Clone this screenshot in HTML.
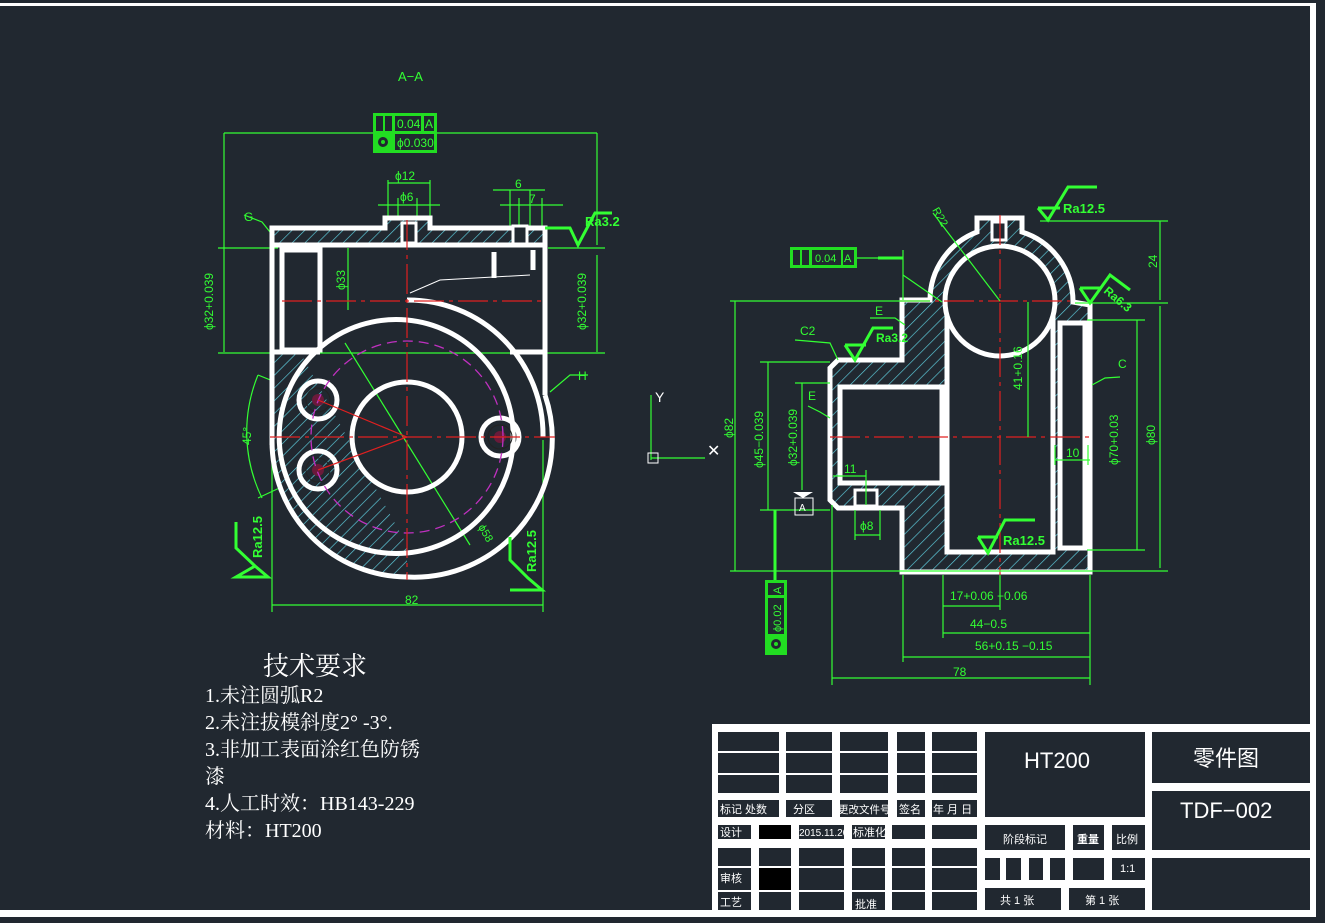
<!DOCTYPE html>
<html><head><meta charset="utf-8"><style>
html,body{margin:0;padding:0;background:#212830;}
svg{display:block}
text{font-family:"Liberation Sans","Noto Sans CJK SC",sans-serif}
.tr text{font-family:"Liberation Serif","Noto Serif CJK SC",serif}
</style></head><body>
<svg width="1325" height="923" viewBox="0 0 1325 923" xmlns="http://www.w3.org/2000/svg">
<defs>
<pattern id="h" width="9" height="9" patternUnits="userSpaceOnUse" patternTransform="rotate(45)">
<rect width="9" height="9" fill="#212830"/><line x1="0" y1="0" x2="0" y2="9" stroke="#5fd0e0" stroke-width="1.3"/></pattern>
</defs>
<rect width="1325" height="923" fill="#212830"/>
<rect x="0" y="3" width="1313" height="3" fill="#fff"/>
<rect x="1310" y="3" width="6" height="914" fill="#fff"/>
<rect x="0" y="910" width="1316" height="7" fill="#fff"/>

<!-- LEFT VIEW -->
<text x="398" y="81" fill="#3f3" font-size="13">A−A</text>
<rect x="373" y="113" width="64" height="40" fill="#22dd22"/>
<rect x="395" y="116" width="26" height="15" fill="#212830"/><rect x="424" y="116" width="10" height="15" fill="#212830"/>
<rect x="395" y="134" width="39" height="16" fill="#212830"/>
<rect x="376" y="116" width="7" height="15" fill="#212830"/><rect x="385" y="116" width="7" height="15" fill="#212830"/>
<circle cx="383" cy="142" r="5" fill="#212830"/><circle cx="383" cy="142" r="2" fill="#22dd22"/>
<text x="397" y="128" fill="#3f3" font-size="12">0.04</text><text x="425" y="128" fill="#3f3" font-size="12">A</text>
<text x="397" y="147" fill="#3f3" font-size="12">ϕ0.030</text>
<g stroke="#3f3" stroke-width="1.2" fill="none">
<line x1="224" y1="133" x2="373" y2="133"/><line x1="437" y1="133" x2="597" y2="133"/>
<line x1="224" y1="133" x2="224" y2="352"/><line x1="597" y1="133" x2="597" y2="245"/>
<line x1="218" y1="248" x2="278" y2="248"/><line x1="548" y1="248" x2="605" y2="248"/>
<line x1="218" y1="353" x2="605" y2="353"/>
<line x1="597" y1="255" x2="597" y2="352"/>
<line x1="388" y1="180" x2="388" y2="222"/><line x1="430" y1="180" x2="430" y2="222"/><line x1="388" y1="183" x2="430" y2="183"/>
<line x1="378" y1="205" x2="440" y2="205"/><line x1="398" y1="198" x2="398" y2="222"/><line x1="417" y1="198" x2="417" y2="222"/>
<line x1="493" y1="190" x2="545" y2="190"/><line x1="510" y1="190" x2="510" y2="245"/><line x1="530" y1="190" x2="530" y2="245"/>
<line x1="500" y1="205" x2="563" y2="205"/><line x1="519" y1="198" x2="519" y2="245"/><line x1="542" y1="198" x2="542" y2="245"/>
<line x1="348" y1="248" x2="348" y2="310"/>
<line x1="272" y1="440" x2="272" y2="612"/><line x1="543" y1="440" x2="543" y2="612"/><line x1="272" y1="605" x2="543" y2="605"/>
<line x1="345" y1="343" x2="470" y2="545"/>
<path d="M258 375 A150 150 0 0 0 262 498"/>
<line x1="258" y1="375" x2="320" y2="400"/><line x1="258" y1="498" x2="318" y2="470"/>
<polyline points="244,215 262,222 270,232"/>
<polyline points="588,375 570,375 550,392"/>
</g>
<text x="395" y="180" fill="#3f3" font-size="12">ϕ12</text>
<text x="400" y="201" fill="#3f3" font-size="12">ϕ6</text>
<text x="515" y="188" fill="#3f3" font-size="12">6</text><text x="529" y="203" fill="#3f3" font-size="12">7</text>
<text x="244" y="221" fill="#3f3" font-size="12">G</text><text x="578" y="380" fill="#3f3" font-size="12">H</text>
<text x="405" y="604" fill="#3f3" font-size="12">82</text>
<text transform="translate(213,330) rotate(-90)" fill="#3f3" font-size="12">ϕ32+0.039</text>
<text transform="translate(586,330) rotate(-90)" fill="#3f3" font-size="12">ϕ32+0.039</text>
<text transform="translate(345,290) rotate(-90)" fill="#3f3" font-size="12">ϕ33</text>
<text transform="translate(251,445) rotate(-90)" fill="#3f3" font-size="12">45°</text>
<text transform="translate(478,527) rotate(60)" fill="#3f3" font-size="11">ϕ58</text>
<path d="M272 228 L385 228 L385 218 L430 218 L430 228 L545 228 L545 245 L272 245 Z" fill="url(#h)" stroke="#fff" stroke-width="5"/>
<rect x="402" y="223" width="14" height="20" fill="#212830" stroke="#fff" stroke-width="3"/>
<rect x="513" y="226" width="14" height="18" fill="#212830" stroke="#fff" stroke-width="3"/>
<path d="M272 352 L272 440 A136 136 0 0 0 407 577 L407 545 L300 352 Z" fill="url(#h)"/>
<g stroke="#fff" stroke-width="5" fill="none">
<line x1="272" y1="245" x2="272" y2="445"/><line x1="545" y1="228" x2="545" y2="395"/>
<path d="M272 440 A136 136 0 0 0 407 577"/><path d="M407 577 A138 138 0 0 0 545 395"/>
<rect x="282" y="250" width="38" height="100"/>
<line x1="272" y1="352" x2="320" y2="352"/><line x1="510" y1="352" x2="545" y2="352"/>
<path d="M407 300 A135 135 0 0 1 543 437"/>
<path d="M407 320 A117 117 0 1 0 407 553 A117 117 0 0 0 407 320"/>
<circle cx="407" cy="437" r="55"/>
<circle cx="318" cy="400" r="19"/><circle cx="318" cy="470" r="19"/><circle cx="500" cy="437" r="19"/>
<line x1="494" y1="252" x2="494" y2="278"/><line x1="533" y1="250" x2="533" y2="270"/>
</g>
<g stroke="#222" stroke-width="1" fill="none"><circle cx="318" cy="400" r="12"/><circle cx="318" cy="470" r="12"/><circle cx="500" cy="437" r="12"/></g>
<circle cx="318" cy="400" r="6" fill="#6a1a3a"/><circle cx="318" cy="470" r="6" fill="#6a1a3a"/><circle cx="500" cy="437" r="6" fill="#6a1a3a"/>
<circle cx="407" cy="437" r="96" fill="none" stroke="#c030c0" stroke-width="1.3" stroke-dasharray="10,6"/>
<polyline points="410,293 440,280 530,275" stroke="#fff" stroke-width="1" fill="none"/>
<g stroke="#e02020" stroke-width="1.2" fill="none">
<line x1="282" y1="301" x2="545" y2="301" stroke-dasharray="30,5,4,5"/>
<line x1="270" y1="437" x2="555" y2="437" stroke-dasharray="30,5,4,5"/>
<line x1="407" y1="220" x2="407" y2="580" stroke-dasharray="30,5,4,5"/>
<line x1="318" y1="400" x2="407" y2="437"/><line x1="318" y1="470" x2="407" y2="437"/>
</g>
<g stroke="#3f3" stroke-width="3" fill="none">
<polyline points="545,228 570,228 578,245 595,213 612,213"/>
<polyline points="236,522 236,548 255,566 268,577 236,577 255,566"/>
<polyline points="510,537 510,560 528,578 542,590 510,590"/>
</g>
<text x="585" y="226" fill="#3f3" font-size="13" font-weight="bold">Ra3.2</text>
<text transform="translate(262,558) rotate(-90)" fill="#3f3" font-size="13" font-weight="bold">Ra12.5</text>
<text transform="translate(536,572) rotate(-90)" fill="#3f3" font-size="13" font-weight="bold">Ra12.5</text>

<!-- RIGHT VIEW -->
<path d="M902 300 L930 300 A73 73 0 0 1 977 232 L977 218 L1022 218 L1022 232 A73 73 0 0 1 1073 302 L1090 305 L1090 572 L902 572 L902 508 L838 508 L830 500 L830 368 L838 360 L902 360 Z" fill="url(#h)" stroke="#fff" stroke-width="5"/>
<rect x="840" y="387" width="102" height="96" fill="#212830" stroke="#fff" stroke-width="5"/>
<path d="M947 315 L947 552 L1053 552 L1053 315 Z" fill="#212830" stroke="#fff" stroke-width="5"/>
<circle cx="1000" cy="301" r="55" fill="#212830" stroke="#fff" stroke-width="5"/>
<rect x="1060" y="323" width="25" height="225" fill="#212830" stroke="#fff" stroke-width="5"/>
<rect x="855" y="490" width="22" height="16" fill="#212830" stroke="#fff" stroke-width="3"/>
<rect x="992" y="222" width="14" height="18" fill="#212830" stroke="#fff" stroke-width="3"/>
<g stroke="#e02020" stroke-width="1.2" fill="none" stroke-dasharray="30,5,4,5">
<line x1="900" y1="301" x2="1070" y2="301"/><line x1="830" y1="437" x2="1090" y2="437"/>
<line x1="1000" y1="215" x2="1000" y2="575"/></g>
<g stroke="#3f3" stroke-width="1.2" fill="none">
<line x1="1040" y1="221" x2="1168" y2="221"/><line x1="1160" y1="221" x2="1160" y2="300"/>
<line x1="730" y1="301" x2="930" y2="301"/><line x1="1075" y1="303" x2="1168" y2="303"/>
<line x1="1160" y1="306" x2="1160" y2="568"/><line x1="730" y1="571" x2="1168" y2="571"/>
<line x1="735" y1="301" x2="735" y2="571"/>
<line x1="760" y1="362" x2="830" y2="362"/><line x1="768" y1="362" x2="768" y2="510"/>
<line x1="795" y1="383" x2="830" y2="383"/><line x1="802" y1="383" x2="802" y2="490"/>
<line x1="760" y1="510" x2="830" y2="510"/>
<line x1="1087" y1="320" x2="1145" y2="320"/><line x1="1087" y1="550" x2="1145" y2="550"/><line x1="1137" y1="320" x2="1137" y2="550"/>
<line x1="1028" y1="302" x2="1028" y2="437"/>
<line x1="1055" y1="460" x2="1090" y2="460"/><line x1="1055" y1="445" x2="1055" y2="465"/><line x1="1088" y1="445" x2="1088" y2="465"/>
<line x1="833" y1="476" x2="866" y2="476"/><line x1="866" y1="470" x2="866" y2="505"/>
<line x1="855" y1="510" x2="855" y2="540"/><line x1="880" y1="510" x2="880" y2="540"/><line x1="855" y1="535" x2="880" y2="535"/>
<line x1="943" y1="575" x2="943" y2="638"/><line x1="903" y1="575" x2="903" y2="662"/><line x1="832" y1="505" x2="832" y2="685"/><line x1="1090" y1="575" x2="1090" y2="685"/>
<line x1="943" y1="606" x2="1000" y2="606"/><line x1="1000" y1="575" x2="1000" y2="610"/>
<line x1="943" y1="633" x2="1090" y2="633"/><line x1="903" y1="657" x2="1090" y2="657"/><line x1="832" y1="678" x2="1090" y2="678"/>
<line x1="903" y1="250" x2="903" y2="300"/><line x1="903" y1="275" x2="942" y2="302"/>
<line x1="933" y1="213" x2="1000" y2="301"/>
<polyline points="795,340 830,343 838,360"/><polyline points="870,318 895,318 905,325"/>
<polyline points="808,406 820,412 830,418"/><polyline points="1120,377 1105,378 1092,385"/>
<line x1="855" y1="258" x2="903" y2="258"/>
<line x1="651" y1="395" x2="651" y2="460"/><line x1="651" y1="458" x2="705" y2="458"/>
</g>
<line x1="775" y1="510" x2="775" y2="580" stroke="#3f3" stroke-width="3"/>
<line x1="878" y1="258" x2="903" y2="258" stroke="#3f3" stroke-width="3"/>
<rect x="648" y="453" width="10" height="10" fill="none" stroke="#fff" stroke-width="1"/>
<text x="655" y="402" fill="#fff" font-size="14">Y</text><text x="707" y="456" fill="#fff" font-size="16">✕</text>
<text transform="translate(733,438) rotate(-90)" fill="#3f3" font-size="12">ϕ82</text>
<text transform="translate(763,468) rotate(-90)" fill="#3f3" font-size="12">ϕ45−0.039</text>
<text transform="translate(797,466) rotate(-90)" fill="#3f3" font-size="12">ϕ32+0.039</text>
<text transform="translate(1022,390) rotate(-90)" fill="#3f3" font-size="12">41+0.16</text>
<text transform="translate(1118,465) rotate(-90)" fill="#3f3" font-size="12">ϕ70+0.03</text>
<text transform="translate(1155,445) rotate(-90)" fill="#3f3" font-size="12">ϕ80</text>
<text transform="translate(1157,268) rotate(-90)" fill="#3f3" font-size="12">24</text>
<text transform="translate(932,210) rotate(60)" fill="#3f3" font-size="11">R22</text>
<text x="1066" y="457" fill="#3f3" font-size="12">10</text>
<text x="844" y="473" fill="#3f3" font-size="12">11</text>
<text x="860" y="530" fill="#3f3" font-size="12">ϕ8</text>
<text x="800" y="335" fill="#3f3" font-size="12">C2</text><text x="875" y="315" fill="#3f3" font-size="12">E</text>
<text x="808" y="400" fill="#3f3" font-size="12">E</text><text x="1118" y="368" fill="#3f3" font-size="12">C</text>
<text x="950" y="600" fill="#3f3" font-size="12">17+0.06 −0.06</text>
<text x="970" y="628" fill="#3f3" font-size="12">44−0.5</text>
<text x="975" y="650" fill="#3f3" font-size="12">56+0.15 −0.15</text>
<text x="953" y="676" fill="#3f3" font-size="12">78</text>
<rect x="790" y="247" width="67" height="21" fill="#22dd22"/>
<rect x="793" y="250" width="7" height="15" fill="#212830"/><rect x="802" y="250" width="7" height="15" fill="#212830"/>
<rect x="812" y="250" width="29" height="15" fill="#212830"/><rect x="843" y="250" width="11" height="15" fill="#212830"/>
<text x="815" y="262" fill="#3f3" font-size="11">0.04</text><text x="844" y="262" fill="#3f3" font-size="11">A</text>
<rect x="765" y="580" width="22" height="75" fill="#22dd22"/>
<rect x="768" y="583" width="16" height="12" fill="#212830"/><rect x="768" y="598" width="16" height="36" fill="#212830"/>
<circle cx="776" cy="644" r="5" fill="#212830"/><circle cx="776" cy="644" r="2" fill="#22dd22"/>
<text transform="translate(781,632) rotate(-90)" fill="#3f3" font-size="11">ϕ0.02</text>
<text transform="translate(781,594) rotate(-90)" fill="#3f3" font-size="11">A</text>
<rect x="795" y="498" width="18" height="17" fill="none" stroke="#fff" stroke-width="1"/>
<text x="799" y="511" fill="#fff" font-size="10">A</text>
<path d="M793 492 L813 492 L803 498 Z" fill="#fff"/>
<g stroke="#3f3" stroke-width="3" fill="none">
<polyline points="1038,208 1048,220 1068,187 1097,187"/><path d="M1038 208 L1060 208" />
<polyline points="845,345 855,360 873,328 893,328"/><line x1="845" y1="345" x2="866" y2="345"/>
<polyline points="978,537 988,553 1005,520 1035,520"/><line x1="978" y1="537" x2="998" y2="537"/>
<polyline points="1080,288 1090,303 1110,275 1130,290"/><line x1="1080" y1="288" x2="1100" y2="288"/>
</g>
<text x="1063" y="213" fill="#3f3" font-size="13" font-weight="bold">Ra12.5</text>
<text x="876" y="342" fill="#3f3" font-size="12" font-weight="bold">Ra3.2</text>
<text x="1003" y="545" fill="#3f3" font-size="13" font-weight="bold">Ra12.5</text>
<text transform="translate(1103,292) rotate(40)" fill="#3f3" font-size="12" font-weight="bold">Ra6.3</text>

<!-- TECH REQUIREMENTS -->
<g class="tr" fill="#fff">
<text x="263" y="675" font-size="26">技术要求</text>
<text x="205" y="702" font-size="20">1.未注圆弧R2</text>
<text x="205" y="729" font-size="20">2.未注拔模斜度2° -3°.</text>
<text x="205" y="756" font-size="20">3.非加工表面涂红色防锈</text>
<text x="205" y="783" font-size="20">漆</text>
<text x="205" y="810" font-size="20">4.人工时效：HB143-229</text>
<text x="205" y="837" font-size="20">材料：HT200</text>
</g>

<!-- TITLE BLOCK -->
<rect x="712" y="724" width="601" height="189" fill="#fff"/>
<g fill="#212830">
<rect x="718" y="732" width="61" height="19"/><rect x="786" y="732" width="46" height="19"/><rect x="840" y="732" width="48" height="19"/><rect x="897" y="732" width="28" height="19"/><rect x="932" y="732" width="45" height="19"/>
<rect x="718" y="753" width="61" height="20"/><rect x="786" y="753" width="46" height="20"/><rect x="840" y="753" width="48" height="20"/><rect x="897" y="753" width="28" height="20"/><rect x="932" y="753" width="45" height="20"/>
<rect x="718" y="775" width="61" height="18"/><rect x="786" y="775" width="46" height="18"/><rect x="840" y="775" width="48" height="18"/><rect x="897" y="775" width="28" height="18"/><rect x="932" y="775" width="45" height="18"/>
<rect x="718" y="800" width="61" height="17"/><rect x="786" y="800" width="46" height="17"/><rect x="840" y="800" width="48" height="17"/><rect x="897" y="800" width="28" height="17"/><rect x="932" y="800" width="45" height="17"/>
<rect x="718" y="825" width="33" height="14"/><rect x="799" y="825" width="45" height="14"/><rect x="852" y="825" width="33" height="14"/><rect x="892" y="825" width="33" height="14"/><rect x="932" y="825" width="45" height="14"/>
<rect x="718" y="848" width="33" height="18"/><rect x="759" y="848" width="32" height="18"/><rect x="799" y="848" width="45" height="18"/><rect x="852" y="848" width="33" height="18"/><rect x="892" y="848" width="33" height="18"/><rect x="932" y="848" width="45" height="18"/>
<rect x="718" y="868" width="33" height="22"/><rect x="799" y="868" width="45" height="22"/><rect x="852" y="868" width="33" height="22"/><rect x="892" y="868" width="33" height="22"/><rect x="932" y="868" width="45" height="22"/>
<rect x="718" y="892" width="33" height="18"/><rect x="759" y="892" width="32" height="18"/><rect x="799" y="892" width="45" height="18"/><rect x="852" y="892" width="33" height="18"/><rect x="892" y="892" width="33" height="18"/><rect x="932" y="892" width="45" height="18"/>
<rect x="985" y="732" width="160" height="85"/>
<rect x="1152" y="732" width="158" height="51"/><rect x="1152" y="791" width="158" height="59"/><rect x="1152" y="858" width="158" height="52"/>
<rect x="985" y="825" width="80" height="25"/><rect x="1073" y="825" width="31" height="25"/><rect x="1112" y="825" width="33" height="25"/>
<rect x="985" y="858" width="15" height="22"/><rect x="1006" y="858" width="15" height="22"/><rect x="1029" y="858" width="14" height="22"/><rect x="1050" y="858" width="15" height="22"/><rect x="1073" y="858" width="31" height="22"/><rect x="1112" y="858" width="33" height="22"/>
<rect x="985" y="888" width="76" height="22"/><rect x="1069" y="888" width="76" height="22"/>
</g>
<rect x="759" y="825" width="32" height="14" fill="#000"/><rect x="759" y="868" width="32" height="22" fill="#000"/>
<g fill="#fff" font-size="11">
<text x="720" y="813">标记  处数</text><text x="793" y="813">分区</text><text x="838" y="813" font-size="10.5">更改文件号</text><text x="899" y="813">签名</text><text x="933" y="813">年 月 日</text>
<text x="720" y="836">设计</text><text x="799" y="836" font-size="10">2015.11.20</text><text x="853" y="836">标准化</text>
<text x="720" y="882">审核</text><text x="720" y="906">工艺</text><text x="855" y="908">批准</text>
<text x="1003" y="843">阶段标记</text><text x="1077" y="843" font-weight="bold">重量</text><text x="1116" y="843">比例</text>
<text x="1120" y="872">1:1</text>
<text x="1000" y="904">共  1  张</text><text x="1085" y="904">第 1 张</text>
<text x="1024" y="768" font-size="22">HT200</text>
<text x="1193" y="766" font-size="22">零件图</text>
<text x="1180" y="818" font-size="22">TDF−002</text>
</g>
</svg>
</body></html>
